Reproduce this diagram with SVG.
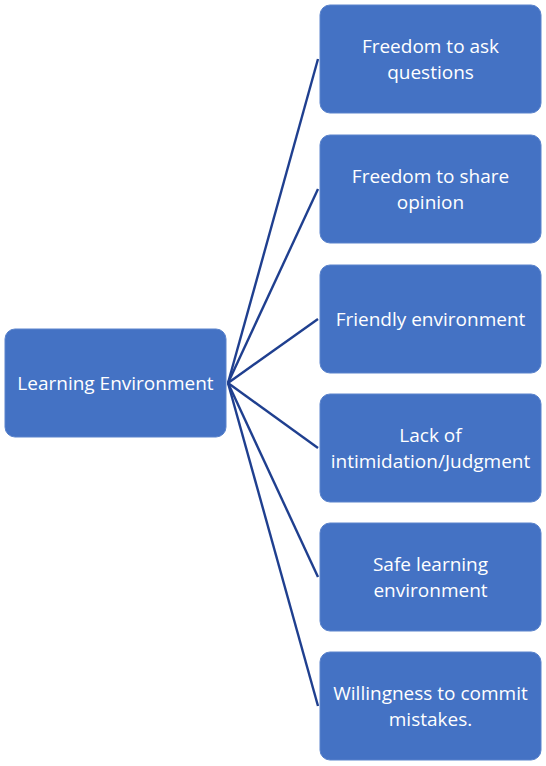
<svg xmlns="http://www.w3.org/2000/svg" width="546" height="766" viewBox="0 0 546 766">
<style>
.box{fill:#4472C4;stroke:#5A83CC;stroke-width:1}
.t{font-family:"Open Sans","Noto Sans",sans-serif;font-size:19px;fill:#FFFFFF;text-anchor:middle}
.c{stroke:#1F3F8F;stroke-width:2.4;fill:none}
</style>
<rect width="546" height="766" fill="#FFFFFF"/>
<g id="connectors">
<line class="c" x1="228" y1="383" x2="318" y2="59"/>
<line class="c" x1="228" y1="383" x2="318" y2="189"/>
<line class="c" x1="228" y1="383" x2="318" y2="319"/>
<line class="c" x1="228" y1="383" x2="318" y2="448"/>
<line class="c" x1="228" y1="383" x2="318" y2="577"/>
<line class="c" x1="228" y1="383" x2="318" y2="706"/>
</g>
<g id="learning-environment">
<rect class="box" x="5" y="329" width="221" height="108" rx="10"/>
<text class="t" x="115.5" y="390">Learning Environment</text>
</g>
<g id="freedom-ask">
<rect class="box" x="320" y="5" width="221" height="108" rx="10"/>
<text class="t" x="430.5" y="53">Freedom to ask</text>
<text class="t" x="430.5" y="79">questions</text>
</g>
<g id="freedom-share">
<rect class="box" x="320" y="135" width="221" height="108" rx="10"/>
<text class="t" x="430.5" y="183">Freedom to share</text>
<text class="t" x="430.5" y="209">opinion</text>
</g>
<g id="friendly">
<rect class="box" x="320" y="265" width="221" height="108" rx="10"/>
<text class="t" x="430.5" y="326">Friendly environment</text>
</g>
<g id="lack">
<rect class="box" x="320" y="394" width="221" height="108" rx="10"/>
<text class="t" x="430.5" y="442">Lack of</text>
<text class="t" x="430.5" y="468">intimidation/Judgment</text>
</g>
<g id="safe">
<rect class="box" x="320" y="523" width="221" height="108" rx="10"/>
<text class="t" x="430.5" y="571">Safe learning</text>
<text class="t" x="430.5" y="597">environment</text>
</g>
<g id="willingness">
<rect class="box" x="320" y="652" width="221" height="108" rx="10"/>
<text class="t" x="430.5" y="700">Willingness to commit</text>
<text class="t" x="430.5" y="726">mistakes.</text>
</g>
</svg>
